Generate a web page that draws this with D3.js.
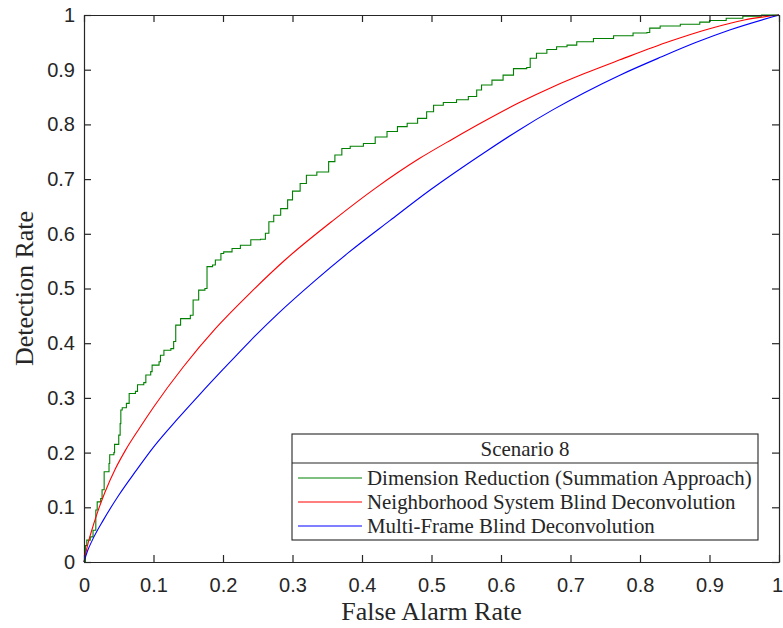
<!DOCTYPE html>
<html>
<head>
<meta charset="utf-8">
<script src="https://cdn.jsdelivr.net/npm/d3@7"></script>
<style>
  html, body { margin: 0; padding: 0; background: #fff; }
  svg { display: block; }
</style>
</head>
<body>
<div id="chart"></div>
<script>
// ---- Data ----
const ticks = [0, 0.1, 0.2, 0.3, 0.4, 0.5, 0.6, 0.7, 0.8, 0.9, 1];
const tickLabels = ["0", "0.1", "0.2", "0.3", "0.4", "0.5", "0.6", "0.7", "0.8", "0.9", "1"];

const legendTitle = "Scenario 8";
const seriesNames = [
  "Dimension Reduction (Summation Approach)",
  "Neighborhood System Blind Deconvolution",
  "Multi-Frame Blind Deconvolution"
];
const seriesColors = ["#008000", "#ff0000", "#0000ff"];

// Dimension Reduction (staircase ROC)
const drX = [0, 0.002, 0.004, 0.009, 0.013, 0.017, 0.019, 0.024, 0.026, 0.029, 0.036, 0.037, 0.043, 0.044,
  0.05, 0.052, 0.053, 0.055, 0.061, 0.065, 0.074, 0.077, 0.086, 0.089, 0.096, 0.098, 0.108, 0.11, 0.115,
  0.125, 0.129, 0.132, 0.139, 0.153, 0.157, 0.165, 0.174, 0.177, 0.185, 0.189, 0.197, 0.201, 0.213, 0.225,
  0.24, 0.254, 0.261, 0.266, 0.273, 0.283, 0.293, 0.3, 0.311, 0.32, 0.335, 0.352, 0.361, 0.371, 0.383,
  0.402, 0.419, 0.436, 0.451, 0.465, 0.48, 0.493, 0.503, 0.517, 0.536, 0.553, 0.565, 0.572, 0.587, 0.603,
  0.618, 0.637, 0.642, 0.651, 0.666, 0.68, 0.695, 0.709, 0.733, 0.762, 0.79, 0.81, 0.814, 0.829, 0.858,
  0.886, 0.9, 0.924, 0.948, 0.975, 1];
const drY = [0, 0.03, 0.04, 0.046, 0.058, 0.095, 0.11, 0.116, 0.132, 0.165, 0.18, 0.196, 0.2, 0.215,
  0.232, 0.253, 0.278, 0.282, 0.29, 0.308, 0.312, 0.324, 0.328, 0.342, 0.348, 0.36, 0.366, 0.378, 0.387,
  0.39, 0.403, 0.433, 0.445, 0.451, 0.479, 0.497, 0.5, 0.54, 0.543, 0.552, 0.564, 0.567, 0.573, 0.579,
  0.589, 0.59, 0.601, 0.622, 0.634, 0.646, 0.662, 0.678, 0.692, 0.707, 0.713, 0.732, 0.744, 0.756, 0.76,
  0.765, 0.777, 0.787, 0.796, 0.802, 0.811, 0.823, 0.835, 0.84, 0.845, 0.851, 0.863, 0.872, 0.881, 0.89,
  0.902, 0.904, 0.921, 0.93, 0.937, 0.942, 0.945, 0.951, 0.957, 0.962, 0.967, 0.968, 0.976, 0.98, 0.983,
  0.987, 0.99, 0.994, 0.998, 1, 1];

// Neighborhood System Blind Deconvolution (smooth)
const nsX = [0, 0.005, 0.01, 0.02, 0.03, 0.045, 0.06, 0.08, 0.1, 0.143, 0.19, 0.24, 0.29, 0.36, 0.42,
  0.483, 0.53, 0.579, 0.625, 0.675, 0.72, 0.771, 0.843, 0.9, 0.95, 1];
const nsY = [0, 0.03, 0.053, 0.093, 0.127, 0.17, 0.205, 0.245, 0.283, 0.357, 0.428, 0.493, 0.553, 0.626,
  0.684, 0.738, 0.773, 0.808, 0.839, 0.869, 0.893, 0.918, 0.952, 0.975, 0.991, 1];

// Multi-Frame Blind Deconvolution (smooth)
const mfX = [0, 0.005, 0.012, 0.028, 0.05, 0.075, 0.1, 0.135, 0.167, 0.2, 0.239, 0.28, 0.332, 0.38, 0.44,
  0.498, 0.579, 0.625, 0.675, 0.72, 0.771, 0.83, 0.881, 0.93, 1];
const mfY = [0, 0.02, 0.04, 0.077, 0.122, 0.167, 0.21, 0.262, 0.307, 0.352, 0.404, 0.455, 0.514, 0.565,
  0.624, 0.68, 0.751, 0.789, 0.827, 0.858, 0.89, 0.923, 0.95, 0.973, 1];

// ---- Layout ----
const W = 783, H = 628;
const pLeft = 84, pTop = 15, pRight = 779, pBottom = 562;
const axisColor = "#262626";
const serifFont = "'Liberation Serif', 'Times New Roman', 'DejaVu Serif', serif";

const svg = d3.select("#chart").append("svg").attr("width", W).attr("height", H);

const x = d3.scaleLinear().domain([0, 1]).range([pLeft, pRight]);
const y = d3.scaleLinear().domain([0, 1]).range([pBottom, pTop]);

// series lines
const zip = (xs, ys) => xs.map((v, i) => [v, ys[i]]);
const series = [
  { pts: zip(drX, drY), curve: d3.curveStepAfter },
  { pts: zip(nsX, nsY), curve: d3.curveMonotoneX },
  { pts: zip(mfX, mfY), curve: d3.curveMonotoneX }
];

const plot = svg.append("g");
series.forEach((s, i) => {
  const line = d3.line().x(d => x(d[0])).y(d => y(d[1])).curve(s.curve);
  plot.append("path")
    .attr("d", line(s.pts))
    .attr("fill", "none")
    .attr("stroke", seriesColors[i])
    .attr("stroke-width", 1.1);
});

// axes (MATLAB box style, inward ticks)
const tickLen = 7;
const fmt = (d) => tickLabels[ticks.indexOf(d)];

const gx = svg.append("g").attr("transform", `translate(0,${pBottom})`)
  .call(d3.axisBottom(x).tickValues(ticks).tickFormat(fmt).tickSizeInner(-tickLen).tickSizeOuter(0).tickPadding(16));
const gxTop = svg.append("g").attr("transform", `translate(0,${pTop})`)
  .call(d3.axisTop(x).tickValues(ticks).tickFormat("").tickSizeInner(-tickLen).tickSizeOuter(0));
const gy = svg.append("g").attr("transform", `translate(${pLeft},0)`)
  .call(d3.axisLeft(y).tickValues(ticks).tickFormat(fmt).tickSizeInner(-tickLen).tickSizeOuter(0).tickPadding(9));
const gyRight = svg.append("g").attr("transform", `translate(${pRight},0)`)
  .call(d3.axisRight(y).tickValues(ticks).tickFormat("").tickSizeInner(-tickLen).tickSizeOuter(0));

[gx, gxTop, gy, gyRight].forEach(g => {
  g.select(".domain").attr("stroke", axisColor).attr("stroke-width", 1.2);
  g.selectAll(".tick line").attr("stroke", axisColor).attr("stroke-width", 1.2);
  g.selectAll(".tick text")
    .attr("fill", axisColor)
    .style("font-family", "'Liberation Sans', Arial, Helvetica, sans-serif")
    .style("font-size", "20px");
});
// keep the last x tick label inside the canvas
gx.selectAll(".tick text").filter(d => d === 1).attr("dx", "-2");

// axis labels
svg.append("text")
  .attr("x", (pLeft + pRight) / 2).attr("y", 620)
  .attr("text-anchor", "middle")
  .attr("fill", axisColor)
  .style("font-family", serifFont)
  .style("font-size", "26px")
  .text("False Alarm Rate");

svg.append("text")
  .attr("transform", `translate(33,${(pTop + pBottom) / 2}) rotate(-90)`)
  .attr("text-anchor", "middle")
  .attr("fill", axisColor)
  .style("font-family", serifFont)
  .style("font-size", "26px")
  .text("Detection Rate");

// legend
const lg = { x0: 292, y0: 434, x1: 758, y1: 540, sep: 463 };
const leg = svg.append("g");
leg.append("rect")
  .attr("x", lg.x0).attr("y", lg.y0)
  .attr("width", lg.x1 - lg.x0).attr("height", lg.y1 - lg.y0)
  .attr("fill", "#fff").attr("stroke", axisColor).attr("stroke-width", 1.1);
leg.append("line")
  .attr("x1", lg.x0).attr("x2", lg.x1).attr("y1", lg.sep).attr("y2", lg.sep)
  .attr("stroke", axisColor).attr("stroke-width", 1.1);
leg.append("text")
  .attr("x", (lg.x0 + lg.x1) / 2).attr("y", (lg.y0 + lg.sep) / 2)
  .attr("dy", "0.35em")
  .attr("text-anchor", "middle")
  .attr("fill", axisColor)
  .style("font-family", serifFont)
  .style("font-size", "20.9px")
  .text(legendTitle);

const rowY = [478, 502, 526];
seriesNames.forEach((name, i) => {
  leg.append("line")
    .attr("x1", 298).attr("x2", 362)
    .attr("y1", rowY[i]).attr("y2", rowY[i])
    .attr("stroke", seriesColors[i]).attr("stroke-width", 1.1);
  leg.append("text")
    .attr("x", 367).attr("y", rowY[i]).attr("dy", "0.35em")
    .attr("fill", axisColor)
    .style("font-family", serifFont)
    .style("font-size", "20.9px")
    .text(name);
});
</script>
</body>
</html>
